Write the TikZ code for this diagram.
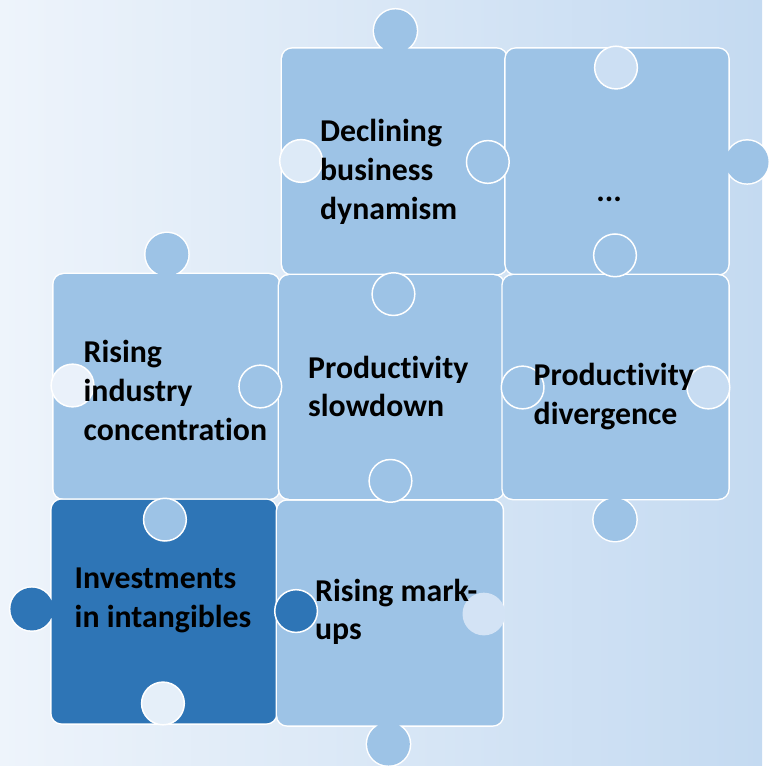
\documentclass[tikz,border=0pt]{standalone}
\usepackage{fontspec}
\setmainfont{Carlito}[Ligatures=NoCommon]
\definecolor{bgleft}{HTML}{EEF4FB}
\definecolor{bgright}{HTML}{C4DAF1}
\definecolor{piece}{HTML}{9DC3E6}
\definecolor{piecedark}{HTML}{2E75B6}
\tikzset{
  tile/.style={preaction={draw=white,line width=3pt},fill=#1,rounded corners=10pt},
  knob/.style={draw=white,line width=1.5pt,fill=#1},
  words/.style={anchor=west,align=left,inner sep=0pt,
    font=\fontsize{32}{38.8}\selectfont\bfseries}
}
\begin{document}
\begin{tikzpicture}[x=1pt,y=-1pt]
  \shade[left color=bgleft,right color=bgright] (0,0) rectangle (767,770);
  % pieces, each with its outer tab
  \path[tile=piece] (284,49) rectangle (510,276) (398,31) circle (21.5pt);
  \path[tile=piece] (509,49) rectangle (733,276) (752,163) circle (21.5pt);
  \path[tile=piece] (54,276) rectangle (281,502) (168,256) circle (21.5pt);
  \path[tile=piece] (281,277) rectangle (507,502);
  \path[tile=piece] (506,277) rectangle (733,502) (619,523) circle (21.5pt);
  \path[tile=piecedark] (52,503) rectangle (278,728) (32,613) circle (21.5pt);
  \path[tile=piece] (279,504) rectangle (506,730) (391,749) circle (21.5pt);
  % tabs lying over a neighbour
  \draw[knob=piece] (396,296) circle (21.5pt);
  \draw[knob=piece] (491,163) circle (21.5pt);
  \draw[knob=piece] (619,257) circle (21.5pt);
  \draw[knob=piece] (262,389) circle (21.5pt);
  \draw[knob=piece] (526,390) circle (21.5pt);
  \draw[knob=piece] (393,484) circle (21.5pt);
  \draw[knob=piece] (166,523) circle (21.5pt);
  \draw[knob=piecedark] (298,615) circle (21.5pt);
  % empty sockets
  \draw[knob=bgleft!60!bgright] (303,162) circle (21.5pt);
  \draw[knob=bgleft!19!bgright] (620,68) circle (21.5pt);
  \draw[knob=bgleft!90!bgright] (73,388) circle (21.5pt);
  \draw[knob=bgleft!7!bgright] (713,390) circle (21.5pt);
  \draw[knob=bgleft!79!bgright] (164,708) circle (21.5pt);
  \path[fill=bgleft!36!bgright] (487,618) circle (21.5pt);
  % texts
  \node[words] (declining) at (322,173) {Declining\\business\\dynamism};
  \node[words,anchor=base] (more) at (613,203) {...};
  \node[words] (concentration) at (84,393) {Rising\\industry\\concentration};
  \node[words] (slowdown) at (310,389) {Productivity\\slowdown};
  \node[words] (divergence) at (537,399) {Productivity\\divergence};
  \node[words] (intangibles) at (75,604) {Investments\\in intangibles};
  \node[words] (markups) at (317,616) {Rising mark-\\ups};
\end{tikzpicture}
\end{document}
